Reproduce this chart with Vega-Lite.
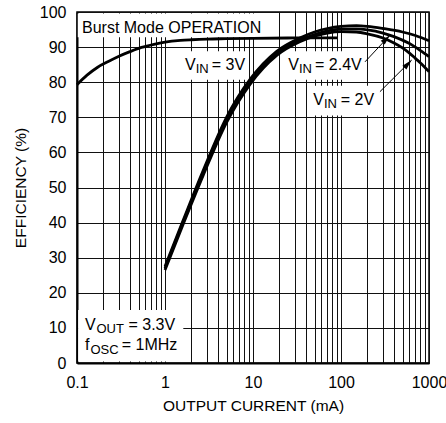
{
  "$schema": "https://vega.github.io/schema/vega-lite/v6.json",
  "width": 352,
  "height": 351,
  "autosize": {"type": "none"},
  "padding": {"left": 77, "top": 12, "right": 17, "bottom": 60},
  "background": "white",
  "config": {
    "font": "Liberation Sans",
    "view": {"stroke": "black", "strokeWidth": 1.5},
    "axis": {
      "grid": true,
      "gridColor": "#111",
      "gridWidth": 1,
      "gridOpacity": 1,
      "ticks": false,
      "domain": true,
      "domainColor": "black",
      "domainWidth": 2,
      "labelFont": "Liberation Sans",
      "labelFontSize": 16,
      "labelColor": "black",
      "labelPadding": 11,
      "labelOverlap": false,
      "labelFlush": false,
      "titleFont": "Liberation Sans",
      "titleFontSize": 15.5,
      "titleFontWeight": "normal",
      "titleColor": "black"
    },
    "text": {"font": "Liberation Sans"}
  },
  "datasets": {
    "curves": [
      {"series": "burst", "current": 0.1, "eff": 79.3},
      {"series": "burst", "current": 0.13, "eff": 82.0},
      {"series": "burst", "current": 0.17, "eff": 84.2},
      {"series": "burst", "current": 0.227, "eff": 85.9},
      {"series": "burst", "current": 0.3, "eff": 87.4},
      {"series": "burst", "current": 0.4, "eff": 88.7},
      {"series": "burst", "current": 0.54, "eff": 89.9},
      {"series": "burst", "current": 0.75, "eff": 90.8},
      {"series": "burst", "current": 1, "eff": 91.4},
      {"series": "burst", "current": 1.5, "eff": 91.9},
      {"series": "burst", "current": 2, "eff": 92.1},
      {"series": "burst", "current": 3, "eff": 92.3},
      {"series": "burst", "current": 5, "eff": 92.4},
      {"series": "burst", "current": 10, "eff": 92.5},
      {"series": "burst", "current": 30, "eff": 92.6},
      {"series": "burst", "current": 90, "eff": 92.6},
      {"series": "3V", "current": 1, "eff": 27.5},
      {"series": "3V", "current": 1.6, "eff": 40.5},
      {"series": "3V", "current": 2.7, "eff": 54.7},
      {"series": "3V", "current": 5, "eff": 70.0},
      {"series": "3V", "current": 9.25, "eff": 80.8},
      {"series": "3V", "current": 18.6, "eff": 88.8},
      {"series": "3V", "current": 34, "eff": 92.6},
      {"series": "3V", "current": 50, "eff": 94.3},
      {"series": "3V", "current": 70, "eff": 95.3},
      {"series": "3V", "current": 100, "eff": 95.9},
      {"series": "3V", "current": 150, "eff": 96.1},
      {"series": "3V", "current": 200, "eff": 95.9},
      {"series": "3V", "current": 300, "eff": 95.3},
      {"series": "3V", "current": 500, "eff": 94.3},
      {"series": "3V", "current": 700, "eff": 93.3},
      {"series": "3V", "current": 1000, "eff": 91.8},
      {"series": "2.4V", "current": 1, "eff": 27.0},
      {"series": "2.4V", "current": 1.6, "eff": 40.0},
      {"series": "2.4V", "current": 2.7, "eff": 54.0},
      {"series": "2.4V", "current": 5, "eff": 69.2},
      {"series": "2.4V", "current": 9.25, "eff": 80.1},
      {"series": "2.4V", "current": 18.6, "eff": 88.2},
      {"series": "2.4V", "current": 34, "eff": 92.0},
      {"series": "2.4V", "current": 50, "eff": 93.6},
      {"series": "2.4V", "current": 70, "eff": 94.6},
      {"series": "2.4V", "current": 100, "eff": 95.1},
      {"series": "2.4V", "current": 150, "eff": 95.2},
      {"series": "2.4V", "current": 200, "eff": 94.9},
      {"series": "2.4V", "current": 300, "eff": 94.0},
      {"series": "2.4V", "current": 400, "eff": 93.0},
      {"series": "2.4V", "current": 600, "eff": 91.0},
      {"series": "2.4V", "current": 800, "eff": 89.0},
      {"series": "2.4V", "current": 1000, "eff": 87.3},
      {"series": "2V", "current": 1, "eff": 26.5},
      {"series": "2V", "current": 1.6, "eff": 39.4},
      {"series": "2V", "current": 2.7, "eff": 53.3},
      {"series": "2V", "current": 5, "eff": 68.5},
      {"series": "2V", "current": 9.25, "eff": 79.4},
      {"series": "2V", "current": 18.6, "eff": 87.6},
      {"series": "2V", "current": 34, "eff": 91.5},
      {"series": "2V", "current": 50, "eff": 93.1},
      {"series": "2V", "current": 70, "eff": 94.0},
      {"series": "2V", "current": 100, "eff": 94.4},
      {"series": "2V", "current": 150, "eff": 94.3},
      {"series": "2V", "current": 200, "eff": 93.8},
      {"series": "2V", "current": 300, "eff": 92.6},
      {"series": "2V", "current": 400, "eff": 91.2},
      {"series": "2V", "current": 500, "eff": 89.8},
      {"series": "2V", "current": 600, "eff": 88.3},
      {"series": "2V", "current": 700, "eff": 86.8},
      {"series": "2V", "current": 800, "eff": 85.5},
      {"series": "2V", "current": 1000, "eff": 83.0}
    ],
    "boxes": [
      {"current": 0.102, "current2": 12.65, "eff": 92.8, "eff2": 99.6},
      {"current": 1.56, "current2": 9.0, "eff": 80.7, "eff2": 88.8},
      {"current": 21.4, "current2": 187, "eff": 80.7, "eff2": 88.8},
      {"current": 42.2, "current2": 263, "eff": 70.5, "eff2": 79.0},
      {"current": 0.103, "current2": 1.614, "eff": 0.4, "eff2": 15.1}
    ],
    "arrows": [
      {"current": 187.5, "eff": 85.8, "current2": 360, "eff2": 93.4},
      {"current": 277, "eff": 77.3, "current2": 635, "eff2": 86.3}
    ],
    "arrowTips": [
      {"current": 360, "eff": 93.4},
      {"current": 635, "eff": 86.3}
    ],
    "mainText": [
      {"current": 0.114, "eff": 93.9, "label": "Burst Mode OPERATION"},
      {"current": 1.688, "eff": 83.5, "label": "V"},
      {"current": 3.395, "eff": 83.5, "label": "= 3V"},
      {"current": 25.18, "eff": 83.5, "label": "V"},
      {"current": 50.65, "eff": 83.5, "label": "= 2.4V"},
      {"current": 48.44, "eff": 73.5, "label": "V"},
      {"current": 99.2, "eff": 73.5, "label": "= 2V"},
      {"current": 0.1233, "eff": 9.4, "label": "V"},
      {"current": 0.3847, "eff": 9.4, "label": "= 3.3V"},
      {"current": 0.1233, "eff": 3.7, "label": "f"},
      {"current": 0.3221, "eff": 3.7, "label": "= 1MHz"}
    ],
    "subText": [
      {"current": 2.233, "eff": 82.5, "label": "IN"},
      {"current": 33.32, "eff": 82.5, "label": "IN"},
      {"current": 64.1, "eff": 72.6, "label": "IN"},
      {"current": 0.1666, "eff": 8.46, "label": "OUT"},
      {"current": 0.1423, "eff": 2.48, "label": "OSC"}
    ]
  },
  "encoding": {
    "x": {
      "field": "current", "type": "quantitative",
      "scale": {"type": "log", "domain": [0.1, 1000], "nice": false},
      "title": "OUTPUT CURRENT (mA)",
      "axis": {
        "values": [0.1, 0.2, 0.3, 0.4, 0.5, 0.6, 0.7, 0.8, 0.9, 1, 2, 3, 4, 5, 6, 7, 8, 9, 10, 20, 30, 40, 50, 60, 70, 80, 90, 100, 200, 300, 400, 500, 600, 700, 800, 900, 1000],
        "labelExpr": "datum.value == 0.1 ? '0.1' : (datum.value == 1 ? '1' : (datum.value == 10 ? '10' : (datum.value == 100 ? '100' : (datum.value == 1000 ? '1000' : ''))))",
        "labelOverlap": false,
        "labelFlush": false,
        "titlePadding": 8
      }
    },
    "y": {
      "field": "eff", "type": "quantitative",
      "scale": {"domain": [0, 100], "nice": false},
      "title": "EFFICIENCY (%)",
      "axis": {
        "values": [0, 10, 20, 30, 40, 50, 60, 70, 80, 90, 100],
        "labelExpr": "format(datum.value, 'd')",
        "labelOverlap": false,
        "labelFlush": false,
        "titlePadding": 11
      }
    }
  },
  "layer": [
    {
      "data": {"name": "boxes"},
      "mark": {"type": "rect", "fill": "white", "strokeWidth": 0},
      "encoding": {
        "x2": {"field": "current2"},
        "y2": {"field": "eff2"}
      }
    },
    {
      "data": {"name": "curves"},
      "mark": {"type": "line", "color": "black", "strokeWidth": 2.8, "interpolate": "monotone"},
      "encoding": {
        "detail": {"field": "series"}
      }
    },
    {
      "data": {"name": "arrows"},
      "mark": {"type": "rule", "color": "black", "strokeWidth": 1},
      "encoding": {
        "x2": {"field": "current2"},
        "y2": {"field": "eff2"}
      }
    },
    {
      "data": {"name": "arrowTips"},
      "mark": {"type": "point", "shape": "M0,0L-0.45,1.7L0.45,1.7Z", "filled": true, "color": "black", "opacity": 1, "size": 150, "angle": 44},
      "encoding": {}
    },
    {
      "data": {"name": "mainText"},
      "mark": {"type": "text", "align": "left", "baseline": "alphabetic", "fontSize": 16, "color": "black", "font": "Liberation Sans"},
      "encoding": {
        "text": {"field": "label"}
      }
    },
    {
      "data": {"name": "subText"},
      "mark": {"type": "text", "align": "left", "baseline": "alphabetic", "fontSize": 13, "color": "black", "font": "Liberation Sans"},
      "encoding": {
        "text": {"field": "label"}
      }
    }
  ]
}
